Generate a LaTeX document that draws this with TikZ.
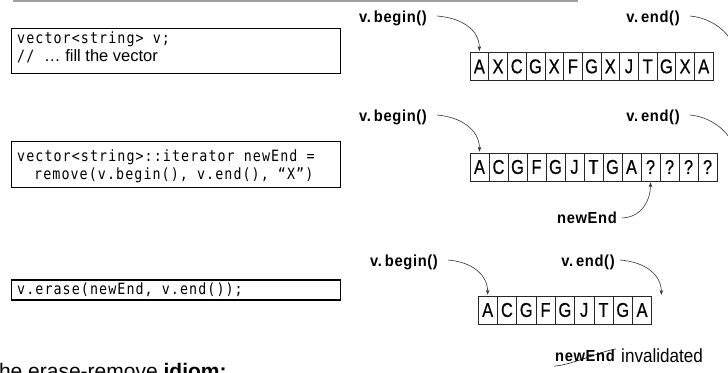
\documentclass[tikz,border=0pt]{standalone}
\usepackage{fontspec}
\setmainfont{Liberation Sans}
\newfontfamily\codefont[FakeStretch=0.86,LetterSpace=7]{DejaVu Sans Mono}
\newfontfamily\tagfont[FakeStretch=0.92,LetterSpace=4]{Liberation Sans}
\newfontfamily\cellfont[FakeStretch=0.82,FakeBold=0.6]{Liberation Sans}
\newfontfamily\notefont[FakeStretch=0.9]{Liberation Sans}
\usetikzlibrary{arrows.meta}

\tikzset{
  codebox/.style={draw, line width=1.3bp, inner sep=0, minimum width=329bp, anchor=north west},
  codeline/.style={font=\codefont\fontsize{15.5bp}{16bp}\selectfont, inner sep=0, anchor=base west},
  cmt/.style={font=\fontsize{16.5bp}{18bp}\selectfont, inner sep=0, anchor=base west},
  cell/.style={draw=black!85, line width=0.6bp, inner sep=0, minimum height=28bp, font=\cellfont\fontsize{20bp}{20bp}\selectfont},
  tag/.style={font=\tagfont\bfseries\fontsize{16bp}{16bp}\selectfont, inner sep=0},
  ptr/.style={-{Stealth[length=5bp,width=3.6bp]}, line width=0.6bp, draw=black!80},
}

\begin{document}
\begin{tikzpicture}[x=1bp,y=-1bp]
\useasboundingbox (0,0) rectangle (728,372);
\clip (0,0) rectangle (728,372);

% rule along the top edge
\fill[gray!75] (13,0) rectangle (578,2.2);

% ---- step 1: the filled vector
\node[codebox, minimum height=45bp] (code1) at (11,27.7) {};
\node[codeline] (code1a) at (17,43) {vector<string> v;};
\node[codeline] (code1b) at (17,61) {//};
\node[cmt] (code1c) at (44,61) {… fill the vector};

\foreach \ch [count=\i] in {A,X,C,G,X,F,G,X,J,T,G,X,A}
  \node[cell, minimum width=18.7bp] (ra\i) at ({470+18.7*(\i-0.5)},66.4) {\ch};
\coordinate (ra14) at (735,58);

\node[tag] (beg1) at (393,18) {v.\hspace{3bp}begin()};
\node[tag] (end1) at (653,18) {v.\hspace{3bp}end()};
\draw[ptr] ([xshift=10bp,yshift=2bp]beg1.east) .. controls +(24,2) and +(0,-22) .. ([yshift=1bp]ra1.north);
\draw[ptr] ([xshift=10bp,yshift=2bp]end1.east) .. controls +(24,2) and +(0,-22) .. (ra14);

% ---- step 2: after remove()
\node[codebox, minimum height=46bp] (code2) at (11,140.7) {};
\node[codeline] (code2a) at (17,161) {vector<string>::iterator newEnd =};
\node[codeline] (code2b) at (34,179) {remove(v.begin(), v.end(), “X”)};

\foreach \ch [count=\i] in {A,C,G,F,G,J,T,G,A,?,?,?,?}
  \node[cell, minimum width=19bp] (rb\i) at ({470+19*(\i-0.5)},167) {\ch};
\coordinate (rb14) at (735,158);

\node[tag] (beg2) at (393,117) {v.\hspace{3bp}begin()};
\node[tag] (end2) at (653,117) {v.\hspace{3bp}end()};
\node[tag] (new2) at (587,218) {newEnd};
\draw[ptr] ([xshift=10bp,yshift=2bp]beg2.east) .. controls +(24,2) and +(0,-22) .. ([yshift=1bp]rb1.north);
\draw[ptr] ([xshift=10bp,yshift=2bp]end2.east) .. controls +(24,2) and +(0,-22) .. (rb14);
\draw[ptr] ([xshift=5bp]new2.east) .. controls +(20,-1) and +(0,18) .. ([yshift=-1bp]rb10.south);

% ---- step 3: after erase()
\node[codebox, minimum height=20bp] (code3) at (11,279.3) {};
\node[codeline] (code3a) at (17,294) {v.erase(newEnd, v.end());};

\foreach \ch [count=\i] in {A,C,G,F,G,J,T,G,A}
  \node[cell, minimum width=19.3bp] (rc\i) at ({478+19.3*(\i-0.5)},310) {\ch};
\coordinate (rc10) at ({478+19.3*9.5},295);

\node[tag] (beg3) at (404,262) {v.\hspace{3bp}begin()};
\node[tag] (end3) at (588,262) {v.\hspace{3bp}end()};
\draw[ptr] ([xshift=10bp,yshift=2bp]beg3.east) .. controls +(24,2) and +(0,-20) .. ([yshift=1bp]rc1.north);
\draw[ptr] ([xshift=5bp,yshift=2bp]end3.east) .. controls +(26,2) and +(0,-20) .. (rc10);

% stale iterator note
\node[tag] (new3) at (585,356) {newEnd};
\draw[line width=0.5bp] ([xshift=-1bp,yshift=-4bp]new3.south west) .. controls +(14,0) and +(-14,2) .. ([xshift=1bp,yshift=1bp]new3.north east);
\node[inner sep=0, anchor=base west, font=\notefont\fontsize{19bp}{19bp}\selectfont] (inval) at (621,362) {invalidated};

% heading, mostly below the edge
\node[inner sep=0, anchor=base west, font=\fontsize{21bp}{22bp}\selectfont] (title) at (-14,378) {The erase-remove \textbf{idiom:}};
\end{tikzpicture}
\end{document}
